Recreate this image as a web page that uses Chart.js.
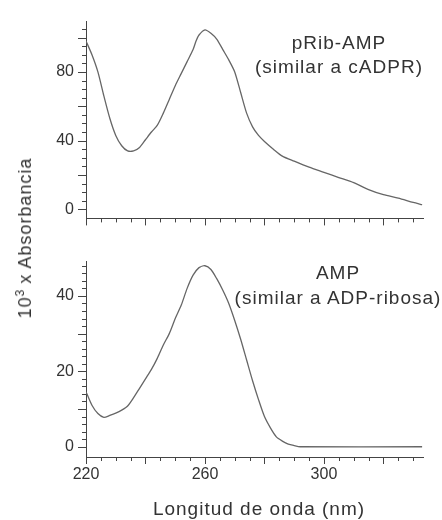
<!DOCTYPE html>
<html>
<head>
<meta charset="utf-8">
<script src="https://cdn.jsdelivr.net/npm/chart.js@4.4.0/dist/chart.umd.min.js"></script>
<style>
    html, body { margin: 0; padding: 0; background: #fff; }
    #wrap { position: relative; width: 442px; height: 520px; overflow: hidden; font-family: "Liberation Sans", Arial, sans-serif; color: #333; }
    #wrap canvas { position: absolute; left: 0; }
    .lbl { position: absolute; white-space: nowrap; transform: translate(-50%, 0); letter-spacing: 1px; font-size: 19px; line-height: 22px; }
    #yTitle { position: absolute; left: 26px; top: 238px; white-space: nowrap; font-size: 18px; letter-spacing: 1px; line-height: 20px; transform: translate(-50%, -50%) rotate(-90deg); }
    #yTitle span { font-size: 12px; position: relative; top: -7px; letter-spacing: 0; }
</style>
</head>
<body>
<div id="wrap">
    <canvas id="topChart" width="442" height="240" style="top:0;width:442px;height:240px"></canvas>
    <canvas id="bottomChart" width="442" height="280" style="top:240px;width:442px;height:280px"></canvas>
    <div class="lbl" style="left:339px; top:32px">pRib-AMP</div>
    <div class="lbl" style="left:339px; top:56px">(similar a cADPR)</div>
    <div class="lbl" style="left:338px; top:262px">AMP</div>
    <div class="lbl" style="left:338px; top:287px">(similar a ADP-ribosa)</div>
    <div class="lbl" style="left:259px; top:498px">Longitud de onda (nm)</div>
    <div id="yTitle">10<span>3</span> x Absorbancia</div>
</div>
<script>
// Top panel: pRib-AMP spectrum
const topNm  = [220, 222, 224, 226, 228, 230, 232, 234, 236, 238, 240, 242, 244, 246, 248, 250, 252, 254, 256, 257, 258, 260, 262, 264, 266, 268, 270, 272, 274, 276, 278, 280, 283, 286, 290, 295, 300, 305, 310, 315, 320, 325, 330, 333];
const topAbs = [98, 90, 80, 66, 53, 43, 37, 34, 34, 36, 40.5, 45, 49, 56, 64, 72, 79, 86, 93, 98, 101.5, 104.5, 102.5, 99, 93, 87, 80, 68, 56, 48, 43, 39.5, 35, 31, 28, 24.5, 21.5, 18.5, 15.5, 11.5, 8.5, 6.5, 4, 2.7];

// Bottom panel: AMP spectrum
const botNm  = [220, 222, 224, 226, 228, 230, 232, 234, 236, 238, 240, 242, 244, 246, 248, 250, 252, 254, 256, 258, 260, 262, 264, 266, 268, 270, 272, 274, 276, 278, 280, 282, 284, 286, 288, 290, 292, 333];
const botAbs = [14.6, 11, 8.8, 7.8, 8.3, 8.9, 9.7, 10.8, 13, 15.5, 18, 20.5, 23.5, 27, 30, 34, 37.5, 42, 45.5, 47.5, 48, 47, 44.5, 41.5, 38, 33.5, 28.5, 23, 17.5, 12.5, 8, 5, 2.6, 1.5, 0.7, 0.3, 0, 0];

// Axis ticks
const xLabels      = [220, 260, 300];
const xMajorTicks  = [220, 240, 260, 280, 300, 320];
const xMinorTicks  = [220, 225, 230, 235, 240, 245, 250, 255, 260, 265, 270, 275, 280, 285, 290, 295, 300, 305, 310, 315, 320, 325, 330];
const topYLabels     = [0, 40, 80];
const topYMajorTicks = [0, 20, 40, 60, 80, 100];
const topYMinorTicks = [0, 5, 10, 15, 20, 25, 30, 35, 40, 45, 50, 55, 60, 65, 70, 75, 80, 85, 90, 95, 100, 105];
const botYLabels     = [0, 20, 40];
const botYMajorTicks = [0, 10, 20, 30, 40];
const botYMinorTicks = [0, 2, 4, 6, 8, 10, 12, 14, 16, 18, 20, 22, 24, 26, 28, 30, 32, 34, 36, 38, 40, 42, 44, 46, 48];

const axisColor = '#444';
const lineColor = '#666';
const tickFont = { family: '"Liberation Sans", Arial, sans-serif', size: 16 };

// draws outward tick marks (long and short) along the x and y axes
const tickMarks = {
    id: 'tickMarks',
    afterDraw(chart, args, opts) {
        const ctx = chart.ctx;
        const xs = chart.scales.x;
        const ys = chart.scales.y;
        ctx.save();
        ctx.strokeStyle = axisColor;
        ctx.lineWidth = 1;
        ctx.beginPath();
        const drawX = (vals, len) => vals.forEach(v => {
            const px = Math.round(xs.getPixelForValue(v)) + 0.5;
            ctx.moveTo(px, xs.top);
            ctx.lineTo(px, xs.top + len);
        });
        const drawY = (vals, len) => vals.forEach(v => {
            const py = Math.round(ys.getPixelForValue(v)) + 0.5;
            ctx.moveTo(ys.right - len, py);
            ctx.lineTo(ys.right, py);
        });
        drawX(opts.xMinor, 4);
        drawX(opts.xMajor, 7);
        drawY(opts.yMinor, 4);
        drawY(opts.yMajor, 8);
        ctx.stroke();
        ctx.restore();
    }
};

function makeChart(id, nm, abs, yMin, yMax, yLabels, yMajor, yMinor, showX, pad, xHeight) {
    return new Chart(document.getElementById(id), {
        type: 'line',
        data: {
            datasets: [{
                data: nm.map((x, i) => ({ x: x, y: abs[i] })),
                borderColor: lineColor,
                borderWidth: 1.3,
                pointRadius: 0,
                tension: 0.25,
                fill: false
            }]
        },
        options: {
            responsive: false,
            animation: false,
            layout: { padding: pad },
            plugins: {
                legend: { display: false },
                tooltip: { enabled: false },
                tickMarks: { xMinor: xMinorTicks, xMajor: xMajorTicks, yMinor: yMinor, yMajor: yMajor }
            },
            scales: {
                x: {
                    type: 'linear',
                    min: 220,
                    max: 333.3,
                    grid: { display: false, drawTicks: false },
                    border: { display: true, color: axisColor, width: 1 },
                    ticks: { display: showX, color: '#333', font: tickFont, padding: 8, maxRotation: 0 },
                    afterBuildTicks: s => { s.ticks = xLabels.map(v => ({ value: v })); },
                    afterFit: s => { s.height = xHeight; }
                },
                y: {
                    min: yMin,
                    max: yMax,
                    grid: { display: false, drawTicks: false },
                    border: { display: true, color: axisColor, width: 1 },
                    ticks: { color: '#333', font: tickFont, padding: 12 },
                    afterBuildTicks: s => { s.ticks = yLabels.map(v => ({ value: v })); },
                    afterFit: s => { s.width = 86; }
                }
            }
        },
        plugins: [tickMarks]
    });
}

makeChart('topChart', topNm, topAbs, -5.3, 109.3, topYLabels, topYMajorTicks, topYMinorTicks, false,
    { top: 14, right: 19, left: 0, bottom: 0 }, 11);
makeChart('bottomChart', botNm, botAbs, -2.72, 49.1, botYLabels, botYMajorTicks, botYMinorTicks, true,
    { top: 7, right: 19, left: 0, bottom: 0 }, 63);
</script>
</body>
</html>
